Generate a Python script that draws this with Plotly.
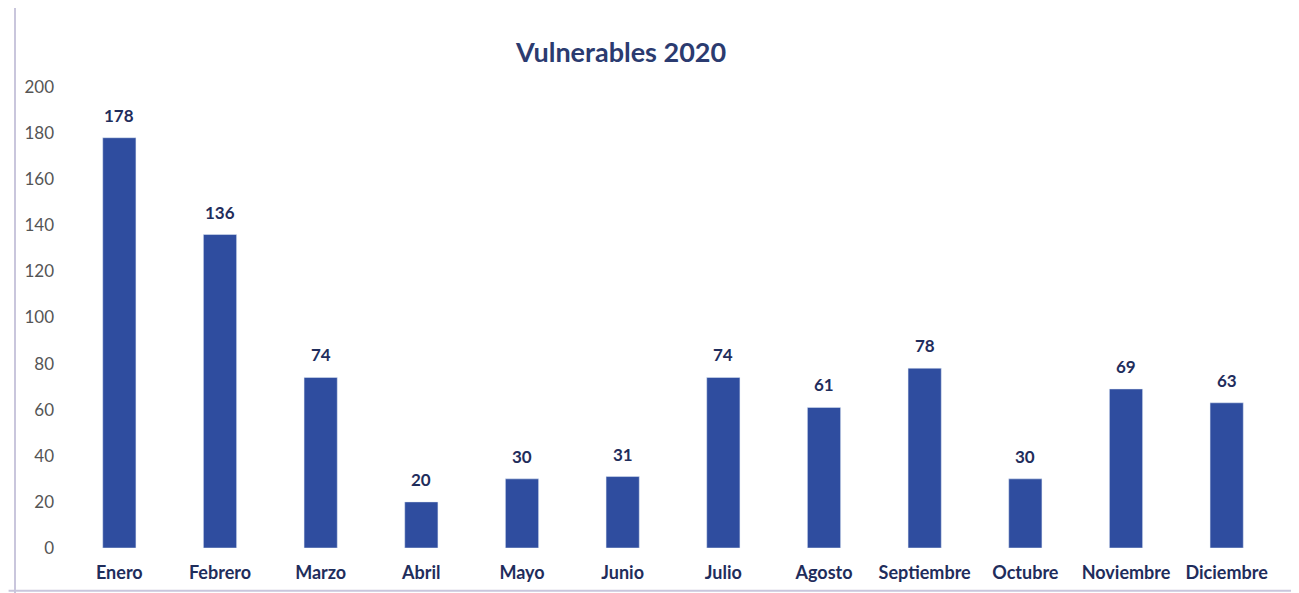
import plotly.graph_objects as go

months = ["Enero", "Febrero", "Marzo", "Abril", "Mayo", "Junio", "Julio",
          "Agosto", "Septiembre", "Octubre", "Noviembre", "Diciembre"]
values = [178, 136, 74, 20, 30, 31, 74, 61, 78, 30, 69, 63]
y_ticks = [0, 20, 40, 60, 80, 100, 120, 140, 160, 180, 200]

bar_color = "#2f4d9f"
label_color = "#1f2d5c"

fig = go.Figure(go.Bar(
    x=months, y=values,
    marker_color=bar_color,
))

for m, v in zip(months, values):
    fig.add_annotation(x=m, y=v, text=f"<b>{v}</b>", showarrow=False,
                       yanchor="bottom", yshift=10,
                       font=dict(family="Lato", size=17, color=label_color))

fig.update_layout(
    width=1299, height=593,
    paper_bgcolor="white", plot_bgcolor="white",
    margin=dict(l=61, r=30, t=79, b=53),
    bargap=0.67,
    showlegend=False,
    title=dict(text="<b>Vulnerables 2020</b>", x=0.472, xanchor="center",
               y=0.925, yanchor="middle",
               font=dict(family="Lato", size=27, color="#2b3b70")),
    xaxis=dict(showgrid=False, showline=False, ticks="", ticklabelstandoff=12,
               tickfont=dict(family="Lato", size=18, color=label_color, weight="bold")),
    yaxis=dict(range=[0, 200], tickvals=y_ticks, showgrid=False, zeroline=False,
               showline=False, ticks="", ticklabelstandoff=14,
               tickfont=dict(family="Lato", size=17, color="#555555")),
    shapes=[
        dict(type="line", xref="paper", yref="paper", x0=-0.0447, x1=-0.0447, y0=-0.12, y1=1.2,
             line=dict(color="#c9c6dc", width=2)),
        dict(type="line", xref="paper", yref="paper", x0=-0.05, x1=1.03, y0=-0.093, y1=-0.093,
             line=dict(color="#c9c6dc", width=2)),
    ],
)

fig.write_html("out.html")
